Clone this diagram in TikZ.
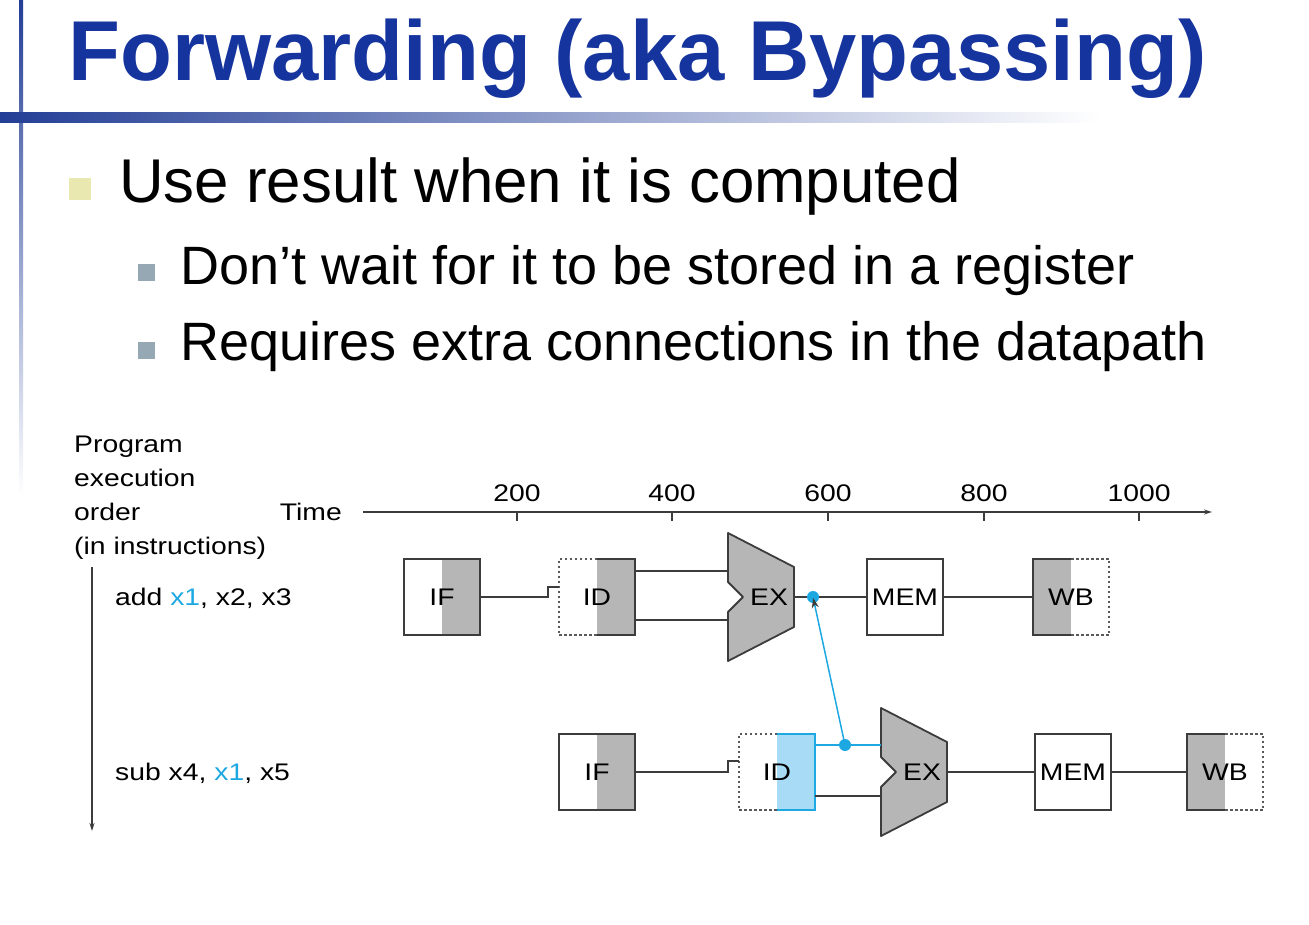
\documentclass[tikz,border=0pt]{standalone}
\usepackage{fontspec}
\setmainfont{Liberation Sans}
\newfontfamily\diagfont{Liberation Sans}[FakeStretch=1.18]
\usetikzlibrary{arrows.meta}
\definecolor{titleblue}{RGB}{22,52,158}
\definecolor{barblue}{RGB}{35,62,150}
\definecolor{ybullet}{RGB}{232,232,176}
\definecolor{gbullet}{RGB}{150,168,180}
\definecolor{stagegray}{RGB}{182,182,182}
\definecolor{linegray}{RGB}{60,60,60}
\definecolor{fwdblue}{RGB}{30,168,226}
\definecolor{idblue}{RGB}{168,220,246}
\begin{document}
\begin{tikzpicture}[x=1pt,y=-1pt,
  lbl/.style={inner sep=0, font=\diagfont\fontsize{24}{28}\selectfont},
  txt/.style={inner sep=0, anchor=base west, font=\diagfont\fontsize{24}{28}\selectfont},
  stg/.style={draw=linegray, line width=1.8pt, minimum width=76pt, minimum height=76pt, inner sep=0, font=\diagfont\fontsize{24}{28}\selectfont},
  stgnodraw/.style={minimum width=76pt, minimum height=76pt, inner sep=0, font=\diagfont\fontsize{24}{28}\selectfont},
  grayR/.style={path picture={\fill[stagegray] (path picture bounding box.north) rectangle (path picture bounding box.south east);}},
  grayL/.style={path picture={\fill[stagegray] (path picture bounding box.north west) rectangle (path picture bounding box.south);}},
  blueR/.style={path picture={\fill[idblue] (path picture bounding box.north) rectangle (path picture bounding box.south east);}},
  solidline/.style={draw=linegray, line width=1.8pt},
  dashline/.style={draw=linegray!85, line width=1.5pt, dash pattern=on 2.5pt off 2.5pt},
  wire/.style={draw=linegray, line width=1.7pt},
  bluewire/.style={draw=fwdblue, line width=1.7pt},
  alu/.style={draw=linegray, line width=1.8pt, fill=stagegray, line join=round},
  dot/.style={circle, fill=fwdblue, inner sep=0, minimum size=12pt},
  fwd/.style={draw=fwdblue, line width=1.5pt, -{Stealth[length=10pt,width=7pt,color=linegray]}, shorten >=1pt}
]
\useasboundingbox (0,0) rectangle (1309,925);

% slide decorations
\shade[top color=barblue, bottom color=white] (19,0) rectangle (23,495);
\shade[left color=barblue, right color=white] (0,113) rectangle (1100,123);

% title
\node[anchor=base west, inner sep=0, text=titleblue, font=\fontsize{85}{100}\selectfont\bfseries] (title) at (68,81) {Forwarding (aka Bypassing)};

% bullets
\fill[ybullet] (69,178) rectangle (91,200);
\node[anchor=base west, inner sep=0, font=\fontsize{61.8}{70}\selectfont] (b1) at (119,203) {Use result when it is computed};
\fill[gbullet] (138,264) rectangle (155,281);
\node[anchor=base west, inner sep=0, font=\fontsize{54}{62}\selectfont] (b2) at (180,285) {Don’t wait for it to be stored in a register};
\fill[gbullet] (138,342) rectangle (155,359);
\node[anchor=base west, inner sep=0, font=\fontsize{54}{62}\selectfont] (b3) at (180,360) {Requires extra connections in the datapath};

% left labels
\node[txt] (l1) at (74,452) {Program};
\node[txt] (l2) at (74,486) {execution};
\node[txt] (l3) at (74,520) {order};
\node[txt] (l4) at (74,554) {(in instructions)};
\node[txt, anchor=base east] (time) at (342,520) {Time};
\coordinate (ordtop) at (92,567);
\coordinate (ordbot) at (92,831);
\draw[wire, line width=1.4pt, -{Stealth[length=8pt,width=5pt]}] (ordtop) -- (ordbot);
\node[txt] (i1) at (115,605) {add \textcolor{fwdblue}{x1}, x2, x3};
\node[txt] (i2) at (115,780) {sub x4, \textcolor{fwdblue}{x1}, x5};

% time axis
\coordinate (axs) at (363,512);
\coordinate (axe) at (1212,512);
\draw[wire, line width=1.4pt, -{Stealth[length=8pt,width=5pt]}] (axs) -- (axe);
\foreach \xx/\tt in {517/200, 672/400, 828/600, 984/800, 1139/1000}{
  \draw[wire, line width=1.4pt] (\xx,512) -- (\xx,521);
  \node[lbl, anchor=base] (t\tt) at (\xx,501) {\tt};
}

% ---------- row 1 : add ----------
\node[stg, grayR] (if1) at (442,597) {IF};
\node[stgnodraw, grayR] (id1) at (597,597) {ID};
\draw[dashline] (id1.north) -| (id1.west) |- (id1.south);
\draw[solidline] (id1.north) -| (id1.east) |- (id1.south);
\coordinate (rf1) at (548,597);
\draw[wire] (if1.east) -- (rf1) -- (548,587) -- (559,587);
\begin{scope}[shift={(728,597)}]
  \draw[alu] (0,-64) -- (66,-30) -- (66,30) -- (0,64) -- (0,15) -- (15,0) -- (0,-15) -- cycle;
  \coordinate (ex1a) at (0,-26);
  \coordinate (ex1b) at (0,23);
  \coordinate (ex1o) at (66,0);
  \node[lbl] (ex1) at (41,0) {EX};
\end{scope}
\draw[wire] (id1.east |- ex1a) -- (ex1a);
\draw[wire] (id1.east |- ex1b) -- (ex1b);
\node[stg] (mem1) at (905,597) {MEM};
\draw[wire] (ex1o) -- (mem1.west);
\node[stgnodraw, grayL] (wb1) at (1071,597) {WB};
\draw[solidline] (wb1.north) -| (wb1.west) |- (wb1.south);
\draw[dashline] (wb1.north) -| (wb1.east) |- (wb1.south);
\draw[wire] (mem1.east) -- (wb1.west);
\node[dot] (dot1) at (813,597) {};

% ---------- row 2 : sub ----------
\node[stg, grayR] (if2) at (597,772) {IF};
\node[stgnodraw, blueR] (id2) at (777,772) {ID};
\draw[dashline] (id2.north) -| (id2.west) |- (id2.south);
\draw[draw=fwdblue, line width=1.8pt] (id2.north) -| (id2.east) |- (id2.south);
\coordinate (rf2) at (728,772);
\draw[wire] (if2.east) -- (rf2) -- (728,761) -- (739,761);
\begin{scope}[shift={(881,772)}]
  \draw[alu] (0,-64) -- (66,-30) -- (66,30) -- (0,64) -- (0,15) -- (15,0) -- (0,-15) -- cycle;
  \coordinate (ex2a) at (0,-27);
  \coordinate (ex2b) at (0,24);
  \coordinate (ex2o) at (66,0);
  \node[lbl] (ex2) at (41,0) {EX};
\end{scope}
\draw[bluewire] (id2.east |- ex2a) -- (ex2a);
\draw[wire] (id2.east |- ex2b) -- (ex2b);
\node[stg] (mem2) at (1073,772) {MEM};
\draw[wire] (ex2o) -- (mem2.west);
\node[stgnodraw, grayL] (wb2) at (1225,772) {WB};
\draw[solidline] (wb2.north) -| (wb2.west) |- (wb2.south);
\draw[dashline] (wb2.north) -| (wb2.east) |- (wb2.south);
\draw[wire] (mem2.east) -- (wb2.west);
\node[dot] (dot2) at (845,745) {};

% forwarding path
\draw[fwd] (dot2.center) -- (dot1.center);
\end{tikzpicture}
\end{document}
